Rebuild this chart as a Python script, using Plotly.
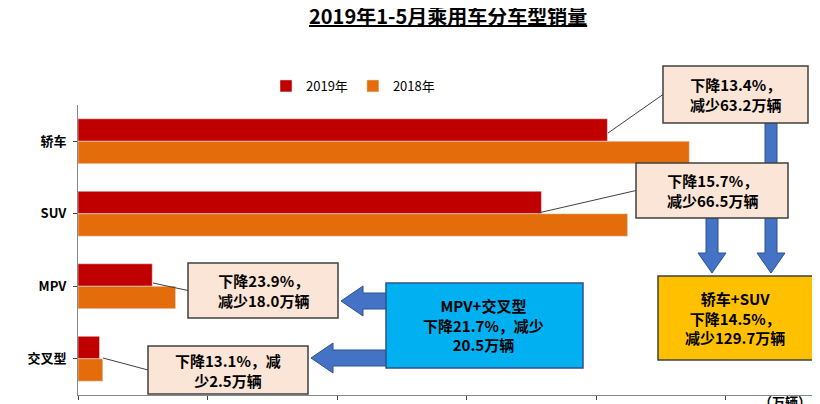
import plotly.graph_objects as go

# data (万辆)
categories = ['轿车', 'SUV', 'MPV', '交叉型']
sales_2019 = [408.5, 357.6, 57.3, 16.6]
sales_2018 = [471.7, 424.1, 75.3, 19.1]

W, H = 820, 404
ML, MR, MT, MB = 70, 10, 97, 17


def px(x):
    return (x - ML) / (W - ML - MR)


def py(y):
    return (H - MB - y) / (H - MT - MB)


fig = go.Figure()
fig.add_trace(go.Bar(y=categories, x=sales_2019, name='2019年', orientation='h',
                     marker_color='#C00000'))
fig.add_trace(go.Bar(y=categories, x=sales_2018, name='2018年', orientation='h',
                     marker_color='#E46C0A'))

shapes = []
annos = []


def text_at(x, y, text, size=15):
    annos.append(dict(xref='paper', yref='paper', x=px(x), y=py(y),
                      xanchor='center', yanchor='middle',
                      text=f'<b>{text}</b>', showarrow=False,
                      font=dict(size=size, color='black')))


def callout(x0, y0, x1, y1, tx, ty, text, fill='#FBE5D6'):
    shapes.append(dict(type='line', xref='paper', yref='paper',
                       x0=px(x0), y0=py((y0 + y1) / 2),
                       x1=px(tx), y1=py(ty), line=dict(color='#404040', width=1)))
    shapes.append(dict(type='rect', xref='paper', yref='paper', x0=px(x0), x1=px(x1),
                       y0=py(y0), y1=py(y1), fillcolor=fill,
                       line=dict(color='#404040', width=1.5), layer='above'))
    text_at((x0 + x1) / 2, (y0 + y1) / 2, text)


def block_arrow(pts, color='#4472C4'):
    path = 'M ' + ' L '.join(f'{px(x)},{py(y)}' for x, y in pts) + ' Z'
    shapes.append(dict(type='path', xref='paper', yref='paper', path=path,
                       fillcolor=color, line=dict(color='#2F528F', width=1)))


# blue block arrows
block_arrow([(757, 115), (769, 115), (769, 245), (777, 245), (763, 265), (749, 245), (757, 245)])
block_arrow([(698, 210), (710, 210), (710, 245), (718, 245), (704, 265), (690, 245), (698, 245)])
block_arrow([(380, 285), (355, 285), (355, 278), (333, 293), (355, 308), (355, 301), (380, 301)])
block_arrow([(380, 342), (325, 342), (325, 335), (303, 350), (325, 365), (325, 358), (380, 358)])

callout(655, 58, 800, 115, 600, 125, '下降13.4%，<br>减少63.2万辆')
callout(628, 155, 780, 210, 530, 205, '下降15.7%，<br>减少66.5万辆')
callout(180, 255, 330, 310, 145, 275, '下降23.9%，<br>减少18.0万辆')
callout(140, 338, 300, 386, 95, 350, '下降13.1%，减<br>少2.5万辆')

shapes.append(dict(type='rect', xref='paper', yref='paper', x0=px(378), x1=px(575),
                   y0=py(275), y1=py(360), fillcolor='#00B0F0',
                   line=dict(color='#2F528F', width=1.5)))
text_at(476, 317, 'MPV+交叉型<br>下降21.7%，减少<br>20.5万辆')
shapes.append(dict(type='rect', xref='paper', yref='paper', x0=px(650), x1=px(805),
                   y0=py(268), y1=py(352), fillcolor='#FFC000',
                   line=dict(color='#404040', width=1.5)))
text_at(727, 310, '轿车+SUV<br>下降14.5%，<br>减少129.7万辆')

annos.append(dict(xref='paper', yref='paper', x=0.5, y=py(8), xanchor='center',
                  yanchor='middle',
                  text='<b><u>2019年1-5月乘用车分车型销量</u></b>', showarrow=False,
                  font=dict(size=20, color='black')))
annos.append(dict(xref='paper', yref='paper', x=px(805), y=py(393), xanchor='right',
                  yanchor='middle',
                  text='<b>（万辆）</b>', showarrow=False, font=dict(size=13, color='black')))

fig.update_layout(
    width=W, height=H,
    margin=dict(l=ML, r=MR, t=MT, b=MB, autoexpand=False),
    plot_bgcolor='white', paper_bgcolor='white',
    font=dict(family='Noto Sans CJK SC', color='black'),
    barmode='group', bargap=0.38, bargroupgap=0,
    showlegend=True,
    legend=dict(orientation='h', x=px(258), y=py(78), yanchor='middle',
                font=dict(size=13), itemwidth=30, bgcolor='rgba(0,0,0,0)'),
    shapes=shapes, annotations=annos,
)
fig.update_xaxes(range=[0, 571], showticklabels=False, showgrid=False,
                 ticks='outside', dtick=100, ticklen=4, showline=True,
                 linecolor='#888', zeroline=False, automargin=False)
fig.update_yaxes(autorange='reversed', showline=True, linecolor='#888',
                 tickfont=dict(size=13, family='Noto Sans CJK SC'), ticklabelstandoff=4,
                 ticks='outside', ticklen=4, automargin=False,
                 tickvals=categories, ticktext=[f'<b>{c}</b>' for c in categories])

fig.write_html('out.html')
